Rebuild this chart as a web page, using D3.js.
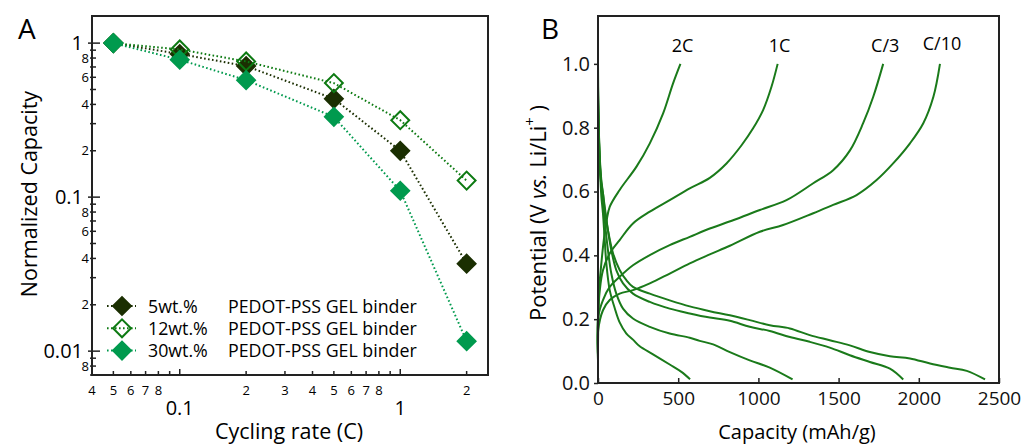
<!DOCTYPE html>
<html>
<head>
<meta charset="utf-8">
<script src="https://cdn.jsdelivr.net/npm/d3@7"></script>
<style>
  body { margin: 0; background: #fff; }
  svg { font-family: "Open Sans", sans-serif; }
  .frame { fill: none; stroke: #222; stroke-width: 2; }
  .tick line { stroke: #222; stroke-width: 1.5; }
</style>
</head>
<body>
<svg id="chart" width="1023" height="446"></svg>
<script>
// ---- panel A: normalized capacity vs cycling rate ----
var rates = [0.05, 0.1, 0.2, 0.5, 1, 2]
var cap5 = [1, 0.85, 0.71, 0.435, 0.20, 0.037]
var cap12 = [1, 0.91, 0.76, 0.55, 0.316, 0.128]
var cap30 = [1, 0.78, 0.575, 0.332, 0.11, 0.0116]
var seriesNames = ['5wt.%', '12wt.%', '30wt.%']

// ---- panel B: potential vs capacity, [capacity, V] ----
var chg2C = [[0,0.12],[2,0.2],[8,0.3],[17,0.354],[36,0.448],[54,0.51],[73,0.552],[135,0.605],[240,0.678],[323,0.751],[406,0.845],[468,0.939],[514,1.0]]
var chg1C = [[0,0.1],[1,0.207],[11,0.29],[31,0.353],[73,0.406],[135,0.448],[218,0.5],[323,0.537],[447,0.573],[572,0.61],[697,0.643],[801,0.688],[895,0.745],[967,0.798],[1030,0.856],[1082,0.929],[1120,1.0]]
var chgC3 = [[0,0.09],[1,0.207],[31,0.26],[73,0.301],[135,0.333],[218,0.369],[323,0.401],[447,0.432],[572,0.458],[697,0.484],[842,0.51],[1009,0.542],[1175,0.573],[1342,0.626],[1466,0.667],[1571,0.729],[1653,0.814],[1716,0.897],[1778,1.0]]
var chgC10 = [[0,0.07],[1,0.165],[31,0.228],[73,0.26],[135,0.28],[218,0.291],[323,0.312],[447,0.343],[572,0.375],[697,0.403],[822,0.43],[1009,0.474],[1154,0.495],[1342,0.532],[1466,0.558],[1612,0.589],[1737,0.636],[1840,0.688],[1945,0.751],[2028,0.814],[2091,0.897],[2132,1.0]]
var dis2C = [[0,0.88],[4,0.8],[10,0.7],[16,0.63],[21,0.584],[31,0.531],[42,0.447],[52,0.375],[73,0.291],[104,0.235],[135,0.19],[177,0.155],[218,0.136],[260,0.115],[343,0.09],[447,0.058],[520,0.035],[574,0.012]]
var dis1C = [[0,0.9],[4,0.8],[10,0.7],[20,0.62],[31,0.573],[42,0.51],[62,0.416],[83,0.343],[114,0.28],[156,0.233],[218,0.202],[323,0.176],[447,0.155],[572,0.142],[634,0.132],[718,0.121],[822,0.097],[946,0.071],[1071,0.048],[1213,0.011]]
var disC3 = [[0,0.93],[4,0.82],[10,0.71],[20,0.63],[31,0.594],[42,0.552],[62,0.479],[83,0.416],[114,0.354],[156,0.312],[218,0.28],[323,0.254],[447,0.233],[572,0.218],[697,0.205],[822,0.195],[946,0.176],[1071,0.163],[1196,0.144],[1320,0.129],[1445,0.111],[1570,0.087],[1695,0.066],[1820,0.045],[1903,0.011]]
var disC10 = [[0,1.0],[3,0.85],[10,0.72],[20,0.64],[31,0.594],[42,0.542],[62,0.479],[94,0.406],[135,0.354],[177,0.322],[218,0.301],[323,0.28],[447,0.259],[572,0.24],[697,0.225],[822,0.212],[946,0.197],[1071,0.181],[1196,0.171],[1320,0.15],[1445,0.134],[1570,0.118],[1695,0.097],[1820,0.084],[1945,0.077],[2070,0.061],[2195,0.048],[2299,0.038],[2413,0.011]]
var rateLabels = ['2C', '1C', 'C/3', 'C/10']
var labelCaps = [514, 1120, 1778, 2132]

var svg = d3.select('#chart')

// ================= panel A =================
var ax = d3.scaleLog().domain([0.04, 2.5]).range([92, 488])
var ay = d3.scaleLog().domain([0.007, 1.5]).range([375, 16])

var gA = svg.append('g')

// y ticks (log)
var yMajor = [1, 0.1, 0.01]
var yMinor = [0.9,0.8,0.7,0.6,0.5,0.4,0.3,0.2, 0.09,0.08,0.07,0.06,0.05,0.04,0.03,0.02, 0.009,0.008,0.007]
var yMinorLab = {0.8:'8',0.6:'6',0.4:'4',0.2:'2',0.08:'8',0.06:'6',0.04:'4',0.02:'2',0.008:'8'}

gA.selectAll('line.ymin').data(yMinor).join('line')
  .attr('x1', 90).attr('x2', 96)
  .attr('y1', d => ay(d)).attr('y2', d => ay(d))
  .attr('stroke', '#222').attr('stroke-width', 1.5)
gA.selectAll('line.ymaj').data(yMajor).join('line')
  .attr('x1', 88).attr('x2', 100)
  .attr('y1', d => ay(d)).attr('y2', d => ay(d))
  .attr('stroke', '#222').attr('stroke-width', 1.5)
gA.selectAll('text.ymin').data(Object.keys(yMinorLab).map(Number)).join('text')
  .attr('x', 89).attr('y', d => ay(d) + 4.5)
  .attr('text-anchor', 'end').attr('font-size', 13)
  .text(d => yMinorLab[d])
gA.selectAll('text.ymaj').data(yMajor).join('text')
  .attr('x', 83).attr('y', d => ay(d) + 7)
  .attr('text-anchor', 'end').attr('font-size', 20)
  .text(d => d)

// x ticks (log)
var xMajor = [0.1, 1]
var xMinor = [0.04,0.05,0.06,0.07,0.08,0.09,0.2,0.3,0.4,0.5,0.6,0.7,0.8,0.9,2]
var xMinorLab = [0.04,0.05,0.06,0.07,0.08,0.2,0.3,0.4,0.5,0.6,0.7,0.8,2]

gA.selectAll('line.xmin').data(xMinor).join('line')
  .attr('x1', d => ax(d)).attr('x2', d => ax(d))
  .attr('y1', 375).attr('y2', 371)
  .attr('stroke', '#222').attr('stroke-width', 1.5)
gA.selectAll('line.xmaj').data(xMajor).join('line')
  .attr('x1', d => ax(d)).attr('x2', d => ax(d))
  .attr('y1', 375).attr('y2', 369)
  .attr('stroke', '#222').attr('stroke-width', 1.5)
gA.selectAll('text.xmin').data(xMinorLab).join('text')
  .attr('x', d => ax(d)).attr('y', 395)
  .attr('text-anchor', 'middle').attr('font-size', 13)
  .text(d => String(Math.round(d / Math.pow(10, Math.floor(Math.log10(d) + 1e-9)))))
gA.selectAll('text.xmaj').data(xMajor).join('text')
  .attr('x', d => ax(d)).attr('y', 415)
  .attr('text-anchor', 'middle').attr('font-size', 20)
  .text(d => d)

gA.append('rect').attr('class', 'frame')
  .attr('x', 92).attr('y', 16).attr('width', 396).attr('height', 359)

var seriesA = [
  {name: seriesNames[0], values: cap5, color: '#1b2f02', fill: '#1b2f02'},
  {name: seriesNames[1], values: cap12, color: '#0d7a12', fill: 'none'},
  {name: seriesNames[2], values: cap30, color: '#009a4e', fill: '#009a4e'}
]
var lineA = d3.line().x(d => ax(d[0])).y(d => ay(d[1]))
var diamond = d3.symbol().type(d3.symbolSquare).size(160)

seriesA.forEach(function(s){
  var pts = rates.map((r, i) => [r, s.values[i]])
  gA.append('path').attr('d', lineA(pts))
    .attr('fill', 'none').attr('stroke', s.color)
    .attr('stroke-width', 2).attr('stroke-dasharray', '1.6,2.4')
  gA.selectAll(null).data(pts).join('path')
    .attr('d', diamond)
    .attr('transform', d => 'translate(' + ax(d[0]) + ',' + ay(d[1]) + ') rotate(45)')
    .attr('fill', s.fill).attr('stroke', s.color).attr('stroke-width', 2)
})

// legend
var legend = gA.append('g')
seriesA.forEach(function(s, i){
  var y = 306 + i * 22.3
  legend.append('line').attr('x1', 107).attr('x2', 136).attr('y1', y).attr('y2', y)
    .attr('stroke', s.color).attr('stroke-width', 2).attr('stroke-dasharray', '1.6,2.4')
  legend.append('path').attr('d', diamond)
    .attr('transform', 'translate(122,' + y + ') rotate(45)')
    .attr('fill', s.fill).attr('stroke', s.color).attr('stroke-width', 2)
  legend.append('text').attr('x', 148).attr('y', y + 6.5).attr('font-size', 17.8).text(s.name)
  legend.append('text').attr('x', 228).attr('y', y + 6.5).attr('font-size', 17.8).text('PEDOT-PSS GEL binder')
})

gA.append('text').attr('x', 18).attr('y', 39).attr('font-size', 28).text('A')
gA.append('text').attr('transform', 'translate(37,194) rotate(-90)')
  .attr('text-anchor', 'middle').attr('font-size', 21.5).text('Normalized Capacity')
gA.append('text').attr('x', 289).attr('y', 439)
  .attr('text-anchor', 'middle').attr('font-size', 21.5).text('Cycling rate (C)')

// ================= panel B =================
var bx = d3.scaleLinear().domain([0, 2500]).range([598, 999])
var by = d3.scaleLinear().domain([0, 1.15]).range([383, 16])
var gB = svg.append('g')

var xAxisB = d3.axisBottom(bx).tickValues([0, 500, 1000, 1500, 2000, 2500])
  .tickSize(-5).tickPadding(8).tickFormat(d3.format('d'))
var yAxisB = d3.axisLeft(by).tickValues([0, 0.2, 0.4, 0.6, 0.8, 1.0])
  .tickSize(4).tickPadding(4).tickFormat(d3.format('.1f'))

gB.append('g').attr('transform', 'translate(0,383)').call(xAxisB)
  .call(g => g.select('.domain').remove())
  .call(g => g.selectAll('text').attr('font-size', 19).attr('fill', '#111').attr('font-family', '"Open Sans", sans-serif').attr('dy', '0.72em'))
gB.append('g').attr('transform', 'translate(598,0)').call(yAxisB)
  .call(g => g.select('.domain').remove())
  .call(g => g.selectAll('text').attr('font-size', 20).attr('fill', '#111').attr('font-family', '"Open Sans", sans-serif'))

var lineB = d3.line().x(d => bx(d[0])).y(d => by(d[1])).curve(d3.curveCatmullRom.alpha(0.5))
var curvesB = [dis2C, dis1C, disC3, disC10, chg2C, chg1C, chgC3, chgC10]
gB.selectAll('path.curve').data(curvesB).join('path')
  .attr('class', 'curve')
  .attr('d', lineB)
  .attr('fill', 'none').attr('stroke', '#1a7a1a').attr('stroke-width', 2)

gB.append('rect').attr('class', 'frame')
  .attr('x', 598).attr('y', 16).attr('width', 401).attr('height', 367)

gB.selectAll('text.rate').data(rateLabels).join('text')
  .attr('x', (d, i) => bx(labelCaps[i]) + 2)
  .attr('y', (d, i) => i == 3 ? 50 : 52)
  .attr('text-anchor', 'middle').attr('font-size', 18)
  .text(d => d)

gB.append('text').attr('x', 541).attr('y', 39).attr('font-size', 28).text('B')
var yt = gB.append('text').attr('transform', 'translate(546,213) rotate(-90)')
  .attr('text-anchor', 'middle').attr('font-size', 22)
yt.append('tspan').text('Potential (V ')
yt.append('tspan').attr('font-style', 'italic').text('vs.')
yt.append('tspan').text(' Li/Li')
yt.append('tspan').attr('font-size', 15).attr('dy', -11).text('+')
yt.append('tspan').attr('dy', 11).text(' )')
gB.append('text').attr('x', 797).attr('y', 439)
  .attr('text-anchor', 'middle').attr('font-size', 20).text('Capacity (mAh/g)')
</script>
</body>
</html>
